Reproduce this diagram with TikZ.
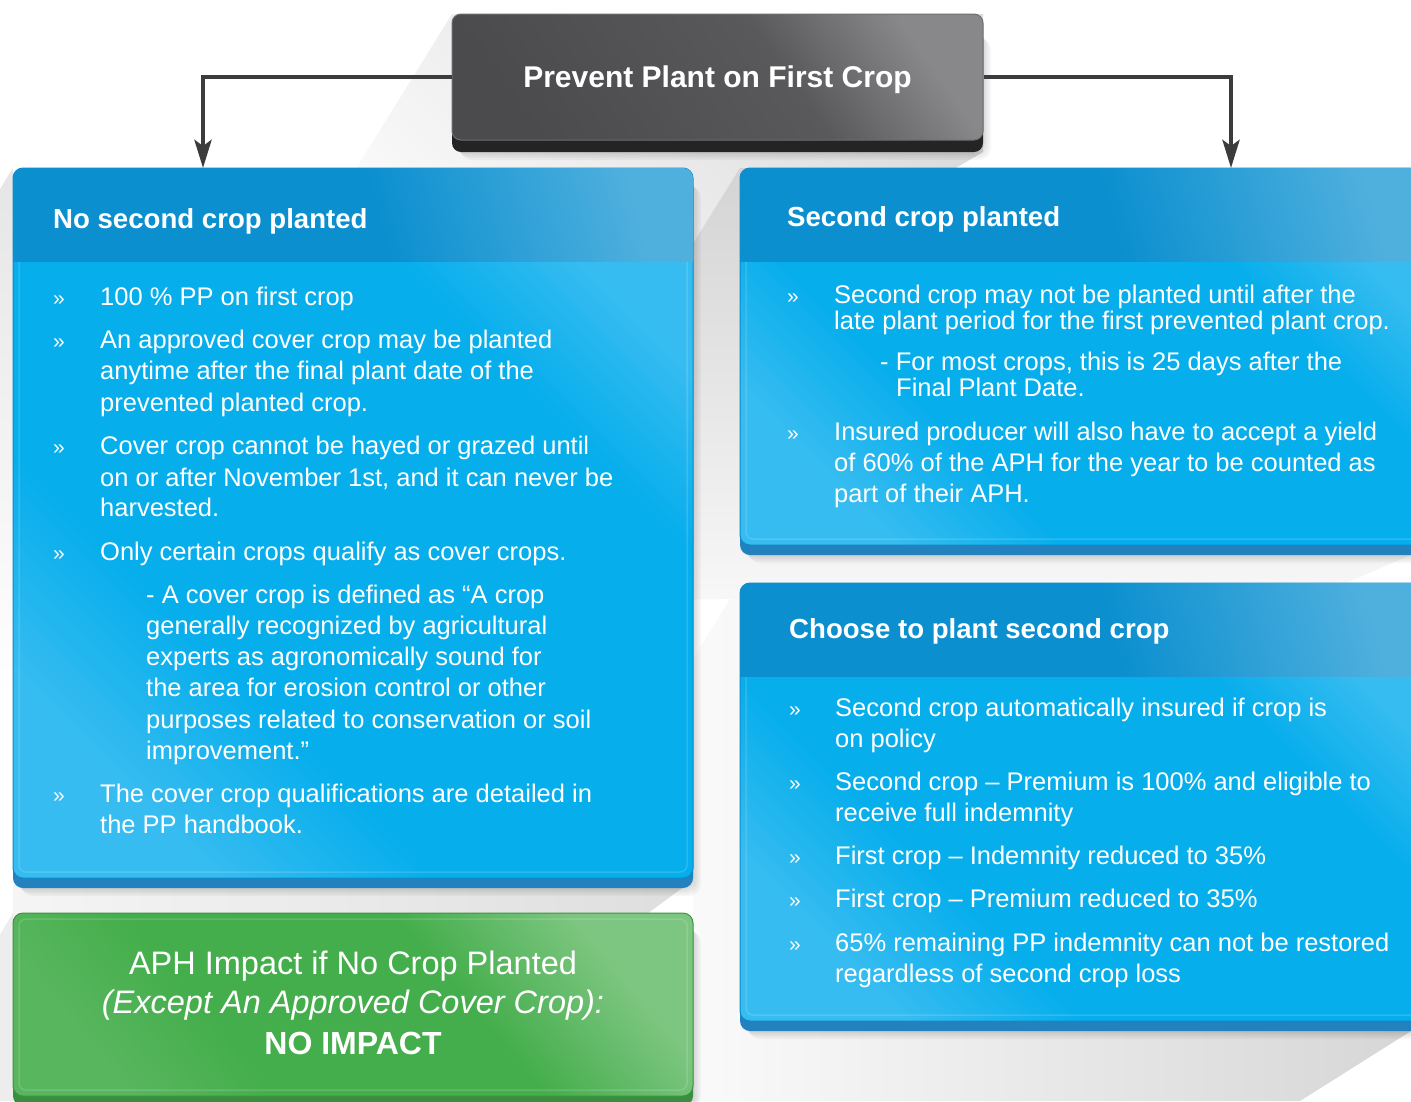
\documentclass[tikz,border=0pt]{standalone}
\usepackage{fontspec}
\setmainfont{Liberation Sans}
\usetikzlibrary{arrows.meta}
\definecolor{hdr}{HTML}{0B8FCF}
\definecolor{hdrlt}{HTML}{4FB0DE}
\definecolor{bdy}{HTML}{07AEEC}
\definecolor{bdylt}{HTML}{36BCF0}
\definecolor{bband}{HTML}{2381BE}
\definecolor{bedge}{HTML}{0C8ACA}
\definecolor{ttl}{HTML}{4B4B4D}
\definecolor{ttlm}{HTML}{59595B}
\definecolor{ttllt}{HTML}{88888A}
\definecolor{tband}{HTML}{242424}
\definecolor{tedge}{HTML}{6E6E70}
\definecolor{grn}{HTML}{45AE4C}
\definecolor{grnlt}{HTML}{7DC681}
\definecolor{grnlf}{HTML}{58B65E}
\definecolor{gband}{HTML}{3A8E40}
\definecolor{connc}{HTML}{3C3C3C}
\pgfdeclarehorizontalshading{bodysh}{100bp}{color(0bp)=(bdylt); color(25bp)=(bdylt); color(36bp)=(bdy); color(66bp)=(bdy); color(75bp)=(bdylt); color(100bp)=(bdylt)}
\pgfdeclarehorizontalshading{hdrsh}{100bp}{color(0bp)=(hdr); color(25bp)=(hdr); color(52bp)=(hdr); color(75bp)=(hdrlt); color(100bp)=(hdrlt)}
\pgfdeclarehorizontalshading{ttlsh}{100bp}{color(0bp)=(ttl); color(25bp)=(ttl); color(58bp)=(ttlm); color(75bp)=(ttllt); color(100bp)=(ttllt)}
\pgfdeclarehorizontalshading{grnsh}{100bp}{color(0bp)=(grnlf); color(25bp)=(grnlf); color(37bp)=(grn); color(60bp)=(grn); color(75bp)=(grnlt); color(100bp)=(grnlt)}
\tikzset{
  bodytxt/.style={anchor=base west, inner sep=0pt, text=white, font=\fontsize{25.5}{31}\selectfont},
  bul/.style={anchor=base west, inner sep=0pt, text=white, font=\fontsize{21}{31}\selectfont},
  headtxt/.style={anchor=base west, inner sep=0pt, text=white, font=\fontsize{27.6}{33}\bfseries\selectfont},
  greentxt/.style={anchor=base, inner sep=0pt, text=white, font=\fontsize{32.5}{38}\selectfont},
  connector/.style={draw=connc, line width=4.5pt, -{Stealth[length=28pt,width=17pt,inset=6pt]}},
  titlebox/.style={rounded corners=9pt, minimum width=531pt, minimum height=126pt, inner sep=0pt,
     shading=ttlsh, shading angle=35, draw=tedge, line width=1pt,
     text=white, font=\fontsize{30}{36}\bfseries\selectfont, text depth=0pt},
  bandfill/.style={rounded corners=10pt},
  bodyshade/.style={rounded corners=10pt, shading=bodysh, shading angle=45, draw=bedge, line width=1pt},
  hdrshade/.style={shading=hdrsh, shading angle=15},
  greenshade/.style={rounded corners=10pt, shading=grnsh, shading angle=40, draw=grn!85!black, line width=1pt},
  innerhl/.style={draw=white, opacity=.14, line width=1.5pt, rounded corners=7pt},
  softshadow/.style={fill=black, opacity=.035},
}
\begin{document}
\begin{tikzpicture}[x=1pt,y=-1pt]
\useasboundingbox (0,0) rectangle (1411,1101);
\clip (0,0) rectangle (1411,1101);
\fill[white] (0,0) rectangle (1411,1101);

% ---------- long shadows ----------
\shade[left color=black!2, right color=black!16]
  (740,583) -- (693,659) -- (693,1101) -- (1300,1101) -- (1411,1031) -- (1411,583) -- cycle;
\shade[top color=black!14, bottom color=white, shading angle=-45]
  (452,14) -- (266,314) -- (643,352) -- (983,152) -- (983,14) -- cycle;
\shade[top color=black!10, bottom color=white]
  (13,168) -- (-160,450) -- (13,700) -- cycle;
\shade[left color=black!4, right color=black!13]
  (693,880) -- (640,919) -- (13,919) -- (13,880) -- cycle;
\shade[top color=black!17, bottom color=black!3]
  (740,168) -- (650,313) -- (650,600) -- (1330,590) -- (1415,553) -- (1415,168) -- cycle;
\fill[black!7] (13,913) -- (-100,1101) -- (13,1101) -- cycle;

% ---------- soft drop shadows ----------
\foreach \d in {2,4,6,8} {
  \fill[softshadow, rounded corners=12pt] (13+\d,178+\d) rectangle (693+\d,888+\d);
  \fill[softshadow, rounded corners=12pt] (740+\d,178+\d) rectangle (1431,555+\d);
  \fill[softshadow, rounded corners=12pt] (740+\d,593+\d) rectangle (1431,1031+\d);
  \fill[softshadow, rounded corners=12pt] (452+\d,30+\d) rectangle (983+\d,152+\d);
  \fill[softshadow, rounded corners=12pt] (13+\d,923+\d) rectangle (693+\d,1110);
}

% ---------- title ----------
\fill[tband, rounded corners=9pt] (452,30) rectangle (983,152);
\node[titlebox] (title) at (717.5,77) {Prevent Plant on First Crop};

% ---------- left blue box ----------
\fill[bband, bandfill] (13,178) rectangle (693,888);
\shade[bodyshade] (13,168) rectangle (693,878);
\begin{scope}
  \clip[rounded corners=10pt] (13,168) rectangle (693,878);
  \shade[hdrshade] (13,168) rectangle (693,261);
\end{scope}
\draw[innerhl] (19,262) -- (19,872) -- (687,872) -- (687,262);

% ---------- right top box ----------
\fill[bband, bandfill] (740,178) rectangle (1431,555);
\shade[bodyshade] (740,168) rectangle (1431,545);
\begin{scope}
  \clip[rounded corners=10pt] (740,168) rectangle (1431,545);
  \shade[hdrshade] (740,168) rectangle (1431,261);
\end{scope}
\draw[innerhl] (746,262) -- (746,539) -- (1431,539);

% ---------- right bottom box ----------
\fill[bband, bandfill] (740,593) rectangle (1431,1031);
\shade[bodyshade] (740,583) rectangle (1431,1021);
\begin{scope}
  \clip[rounded corners=10pt] (740,583) rectangle (1431,1021);
  \shade[hdrshade] (740,583) rectangle (1431,676);
\end{scope}
\draw[innerhl] (746,677) -- (746,1015) -- (1431,1015);

% ---------- green box ----------
\fill[gband, bandfill] (13,923) rectangle (693,1106);
\shade[greenshade] (13,913) rectangle (693,1096);
\draw[innerhl] (19,919) rectangle (687,1090);

% ---------- connectors ----------
\coordinate (la) at (203,168);
\coordinate (ra) at (1231,168);
\draw[connector] (title.west) -| (la);
\draw[connector] (title.east) -| (ra);

% ---------- left box text ----------
\node[headtxt] (h1) at (53,228) {No second crop planted};
\node[bul] (b1) at (53,305) {»};
\node[bodytxt] (t1) at (100,305) {100 \% PP on first crop};
\node[bul] (b2) at (53,348) {»};
\node[bodytxt] (t2a) at (100,348) {An approved cover crop may be planted};
\node[bodytxt] (t2b) at (100,379) {anytime after the final plant date of the};
\node[bodytxt] (t2c) at (100,411) {prevented planted crop.};
\node[bul] (b3) at (53,454) {»};
\node[bodytxt] (t3a) at (100,454) {Cover crop cannot be hayed or grazed until};
\node[bodytxt] (t3b) at (100,486) {on or after November 1st, and it can never be};
\node[bodytxt] (t3c) at (100,516) {harvested.};
\node[bul] (b4) at (53,560) {»};
\node[bodytxt] (t4) at (100,560) {Only certain crops qualify as cover crops.};
\node[bodytxt] (s1) at (146,603) {- A cover crop is defined as “A crop};
\node[bodytxt] (s2) at (146,634) {generally recognized by agricultural};
\node[bodytxt] (s3) at (146,665) {experts as agronomically sound for};
\node[bodytxt] (s4) at (146,696) {the area for erosion control or other};
\node[bodytxt] (s5) at (146,728) {purposes related to conservation or soil};
\node[bodytxt] (s6) at (146,759) {improvement.”};
\node[bul] (b5) at (53,802) {»};
\node[bodytxt] (t5a) at (100,802) {The cover crop qualifications are detailed in};
\node[bodytxt] (t5b) at (100,833) {the PP handbook.};

% ---------- right top text ----------
\node[headtxt] (h2) at (787,226) {Second crop planted};
\node[bul] (rb1) at (787,303) {»};
\node[bodytxt] (r1a) at (834,303) {Second crop may not be planted until after the};
\node[bodytxt] (r1b) at (834,329) {late plant period for the first prevented plant crop.};
\node[bodytxt] (r1c) at (880,370) {- For most crops, this is 25 days after the};
\node[bodytxt] (r1d) at (896,396) {Final Plant Date.};
\node[bul] (rb2) at (787,440) {»};
\node[bodytxt] (r2a) at (834,440) {Insured producer will also have to accept a yield};
\node[bodytxt] (r2b) at (834,471) {of 60\% of the APH for the year to be counted as};
\node[bodytxt] (r2c) at (834,502) {part of their APH.};

% ---------- right bottom text ----------
\node[headtxt] (h3) at (789,638) {Choose to plant second crop};
\node[bul] (cb1) at (789,716) {»};
\node[bodytxt] (c1a) at (835,716) {Second crop automatically insured if crop is};
\node[bodytxt] (c1b) at (835,747) {on policy};
\node[bul] (cb2) at (789,790) {»};
\node[bodytxt] (c2a) at (835,790) {Second crop – Premium is 100\% and eligible to};
\node[bodytxt] (c2b) at (835,821) {receive full indemnity};
\node[bul] (cb3) at (789,864) {»};
\node[bodytxt] (c3) at (835,864) {First crop – Indemnity reduced to 35\%};
\node[bul] (cb4) at (789,907) {»};
\node[bodytxt] (c4) at (835,907) {First crop – Premium reduced to 35\%};
\node[bul] (cb5) at (789,951) {»};
\node[bodytxt] (c5a) at (835,951) {65\% remaining PP indemnity can not be restored};
\node[bodytxt] (c5b) at (835,982) {regardless of second crop loss};

% ---------- green text ----------
\node[greentxt] (g1) at (353,974) {APH Impact if No Crop Planted};
\node[greentxt, font=\fontsize{32.5}{38}\itshape\selectfont] (g2) at (353,1013) {(Except An Approved Cover Crop):};
\node[greentxt, font=\fontsize{32}{38}\bfseries\selectfont] (g3) at (353,1054) {NO IMPACT};
\end{tikzpicture}
\end{document}
